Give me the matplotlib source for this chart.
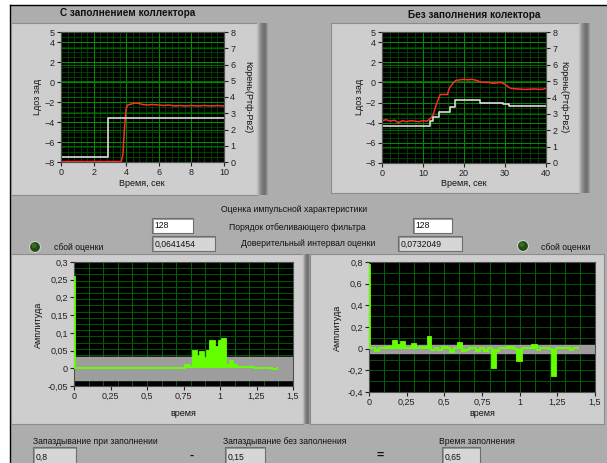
import numpy as np
import matplotlib
matplotlib.use("Agg")
import matplotlib.pyplot as plt
from matplotlib.patches import Rectangle, Circle
from matplotlib.ticker import FuncFormatter

plt.rcParams["font.family"] = ["Liberation Sans", "DejaVu Sans"]

W, H = 607, 463

# ---- data ----
# top-left graph: "С заполнением коллектора"
t_fill = [0, 3.7, 3.8, 3.9, 4.0, 4.1, 4.3, 4.6, 4.8, 5.0, 5.3, 5.6, 6.0, 6.3,
          6.6, 7.0, 7.3, 7.6, 8.0, 8.4, 8.8, 9.2, 9.6, 10]
lead_fill = [-7.95, -7.95, -7.2, -4.5, -2.6, -2.3, -2.2, -2.1, -2.15, -2.25, -2.3,
             -2.25, -2.3, -2.35, -2.3, -2.4, -2.35, -2.4, -2.35, -2.4, -2.35,
             -2.4, -2.35, -2.4]
t_root_fill = [0, 2.9, 10]
root_fill = [0.29, 2.69, 2.69]

# top-right graph: "Без заполнения колектора"
t_nofill = [0, 1, 2, 3, 4, 5, 6, 7, 8, 9, 10, 11, 12, 12.5, 13, 13.8, 14.2, 16,
            16.3, 16.7, 17.5, 18, 19, 20, 21, 22, 23, 24, 25, 26, 27, 28, 29,
            30, 31, 31.5, 33, 35, 37, 39, 40]
lead_nofill = [-3.8, -3.7, -3.85, -3.75, -4.0, -3.8, -3.9, -3.8, -3.85, -3.9,
               -3.8, -3.85, -3.5, -3.2, -2.5, -1.6, -1.2, -1.2, -0.7, -0.4, 0.0,
               0.2, 0.25, 0.3, 0.25, 0.3, 0.2, 0.05, 0.0, 0.0, -0.1, -0.05, 0.0,
               -0.2, -0.5, -0.6, -0.65, -0.7, -0.65, -0.7, -0.6]
t_root_nofill = [0, 11.7, 12.5, 14.0, 16.5, 17.8, 24, 29.5, 31, 40]
root_nofill = [2.28, 2.55, 2.8, 3.1, 3.45, 3.84, 3.67, 3.59, 3.47, 3.47]

# impulse responses (step edges, amplitudes)
edges_fill = [0, 0.008, 0.762, 0.796, 0.815, 0.842, 0.860, 0.888, 0.911, 0.934,
              0.968, 0.991, 1.014, 1.043, 1.066, 1.089, 1.117, 1.151, 1.231,
              1.323, 1.357, 1.387, 1.396]
amp_fill = [0.257, 0, 0.01, 0.003, 0.05, 0.034, 0.045, 0.025, 0.048, 0.077,
            0.061, 0.078, 0.083, 0.01, 0.021, 0.01, 0.005, 0.003, 0.001, 0.002,
            -0.002, 0.002]

edges_nofill = [0, 0.008, 0.040, 0.066, 0.106, 0.150, 0.162, 0.188, 0.210, 0.239,
                0.288, 0.312, 0.338, 0.389, 0.414, 0.438, 0.460, 0.487, 0.515,
                0.538, 0.564, 0.593, 0.615, 0.642, 0.666, 0.710, 0.737, 0.765,
                0.792, 0.814, 0.841, 0.865, 0.914, 0.965, 0.985, 1.013, 1.084,
                1.113, 1.135, 1.197, 1.212, 1.239, 1.290, 1.334, 1.356, 1.389]
amp_nofill = [0.77, 0.01, -0.02, 0.005, 0.015, 0.02, 0.07, 0.03, 0.065, 0.01,
              0.04, 0.01, 0.015, 0.11, -0.01, 0.005, -0.01, 0.02, 0.01, -0.03,
              0.01, 0.05, -0.02, -0.01, 0.01, -0.025, 0.005, -0.02, 0.005,
              -0.18, -0.02, 0.005, 0.02, 0.0, -0.11, 0.005, 0.03, -0.015, 0.01,
              0.0, -0.25, 0.01, 0.005, -0.01, 0.01]

filter_order = [128, 128]
conf_interval = [0.0641454, 0.0732049]
delay_fill = 0.8
delay_nofill = 0.15
fill_time = 0.65

PANEL = "#adadad"
FRAME = "#cecece"
GRID_MAJ = "#009000"
GRID_MIN = "#004a00"
LIME = "#66ff00"


def comma(v, pos=None):
    return ("%g" % v).replace(".", ",")


fig = plt.figure(figsize=(W / 100, H / 100), dpi=100, facecolor="white")
bg = fig.add_axes([0, 0, 1, 1])
bg.set_axis_off()


def rect(x0, y0, x1, y1, fc, ec="none", lw=0.8, z=1):
    bg.add_patch(Rectangle((x0, y0), x1 - x0, y1 - y0, facecolor=fc,
                           edgecolor=ec, lw=lw, zorder=z))


def shade_bar(x0, y0, x1, y1):
    shade = np.array([[0.74, 0.64, 0.56, 0.5, 0.46, 0.44, 0.48, 0.6]])
    bg.imshow(shade, cmap="gray", vmin=0, vmax=1, extent=(x0, x1, y1, y0),
              aspect="auto", interpolation="bilinear", zorder=2)


def txt(x, y, s, ha="center", size=6.2, **kw):
    bg.text(x, y, s, ha=ha, va="center", fontsize=size, color="#111111", **kw)


def box(x0, y0, x1, y1, s, fc):
    rect(x0, y0, x1, y1, fc, ec="#6e6e6e", lw=0.8, z=3)
    bg.plot([x0 + 1, x0 + 1, x1 - 1], [y1 - 1, y0 + 1, y0 + 1], color="#8a8a8a",
            lw=0.6, zorder=4)
    txt(x0 + 2.5, (y0 + y1) / 2 + 0.5, s, ha="left", size=6.2)


def led(x, y):
    bg.add_patch(Circle((x, y), 5.5, facecolor="#234d14", edgecolor="#d0d0d0",
                        lw=0.8, zorder=3))
    bg.add_patch(Circle((x - 1.0, y - 1.3), 2.4, facecolor="#3a7026",
                        edgecolor="none", zorder=4))


# panel background and borders
rect(10, 5, W + 2, H + 2, PANEL, z=0)
bg.plot([10, 10], [5, H], color="black", lw=1, zorder=1)
bg.plot([10, W], [5, 5], color="black", lw=1, zorder=1)

# graph frames
rect(11, 23, 257, 195, FRAME, ec="#8c8c8c")
shade_bar(257, 23, 268, 195)
rect(331, 23, 579, 193, FRAME, ec="#8c8c8c")
shade_bar(579, 23, 590, 193)
rect(11, 254, 303, 424, FRAME, ec="#8c8c8c")
shade_bar(303, 254, 310, 424)
rect(310, 254, 604, 424, FRAME, ec="#8c8c8c")

bg.set_xlim(0, W)
bg.set_ylim(H, 0)


def px_axes(x0, y0, x1, y1):
    return fig.add_axes([x0 / W, 1 - y1 / H, (x1 - x0) / W, (y1 - y0) / H])


def style(ax):
    ax.set_facecolor("black")
    ax.tick_params(direction="out", length=3, width=0.8, colors="#222222",
                   labelsize=6.5, pad=1.5)
    for sp in ax.spines.values():
        sp.set_color("#505050")
        sp.set_linewidth(0.8)


def top_graph(box_px, t_lead, lead, t_root, root, xmax, xmajor, xminor):
    ax = px_axes(*box_px)
    style(ax)
    ax.set_xlim(0, xmax)
    ax.set_ylim(-8, 5)
    ax.set_xticks(np.arange(0, xmax + 0.01, xmajor))
    ax.set_yticks([-8, -6, -4, -2, 0, 2, 4, 5])
    for x in np.arange(0, xmax + 0.01, xminor):
        ax.axvline(x, color=GRID_MIN, lw=0.6, zorder=1)
    for y in np.arange(-8, 5.01, 0.5):
        ax.axhline(y, color=GRID_MIN, lw=0.6, zorder=1)
    for x in np.arange(0, xmax + 0.01, xmajor):
        ax.axvline(x, color=GRID_MAJ, lw=0.7, zorder=1)
    for y in [-6, -4, -2, 0, 2, 4]:
        ax.axhline(y, color=GRID_MAJ, lw=0.7, zorder=1)
    for r in range(1, 8):
        ax.axhline(-8 + r * 13 / 8, color="#006a00", lw=0.7, zorder=1)
    ax2 = ax.twinx()
    style(ax2)
    ax2.set_facecolor("none")
    ax2.set_ylim(0, 8)
    ax2.set_yticks(range(9))
    ax2.plot(t_root, root, color="#dcdcdc", lw=1.2, drawstyle="steps-post",
             zorder=2)
    ax.plot(t_lead, lead, color="#ff2a2a", lw=1.1, zorder=3)
    return ax, ax2


top_graph((61, 32, 224, 162), t_fill, lead_fill, t_root_fill, root_fill,
          10, 2, 0.4)
top_graph((382, 32, 546, 163), t_nofill, lead_nofill, t_root_nofill,
          root_nofill, 40, 10, 2)


def impulse_graph(box_px, edges, amp, ci, ylim, yticks, ystep):
    ax = px_axes(*box_px)
    style(ax)
    ax.set_xlim(0, 1.5)
    ax.set_ylim(*ylim)
    ax.set_xticks([0, 0.25, 0.5, 0.75, 1, 1.25, 1.5])
    ax.set_yticks(yticks)
    ax.xaxis.set_major_formatter(FuncFormatter(comma))
    ax.yaxis.set_major_formatter(FuncFormatter(comma))
    for x in np.arange(0, 1.51, 0.1):
        ax.axvline(x, color="#007400", lw=0.6, zorder=1)
    for y in np.arange(ylim[0], ylim[1] + 1e-6, ystep):
        ax.axhline(y, color="#006400", lw=0.6, zorder=1)
    ax.axhspan(-ci / 2, ci / 2, color="#9d9d9d", zorder=2)
    ax.stairs(amp, edges, baseline=0, fill=True, color=LIME, zorder=3)
    ax.stairs(amp, edges, baseline=0, color=LIME, lw=1.3, zorder=4)
    return ax


impulse_graph((74, 262, 293, 386), edges_fill, amp_fill, conf_interval[0],
              (-0.05, 0.3), [-0.05, 0, 0.05, 0.1, 0.15, 0.2, 0.25, 0.3], 0.0175)
impulse_graph((369, 262, 595, 392), edges_nofill, amp_nofill, conf_interval[1],
              (-0.4, 0.8), [-0.4, -0.2, 0, 0.2, 0.4, 0.6, 0.8], 0.1)

# titles and axis labels
txt(128, 13, "С заполнением коллектора", size=7.2, fontweight="bold")
txt(474, 15, "Без заполнения колектора", size=7.2, fontweight="bold")
for xl, xr, xc in [(37, 248, 142), (360, 564, 464)]:
    txt(xl, 97, "Lдоз зад", size=6.5, rotation=90)
    txt(xr, 97, "Корень(Ртф-Рв2)", size=6.5, rotation=270)
    txt(xc, 183, "Время, сек", size=6.5)
txt(38, 325, "Амплитуда", size=6.5, rotation=90)
txt(337, 328, "Амплитуда", size=6.5, rotation=90)
txt(183, 414, "время", size=6.5)
txt(482, 414, "время", size=6.5)

# middle controls
txt(294, 209, "Оценка импульсной характеристики")
txt(297, 227, "Порядок отбеливающего фильтра")
txt(308, 243, "Доверительный интервал оценки")
box(152, 218, 193, 233, str(filter_order[0]), "white")
box(413, 218, 452, 233, str(filter_order[1]), "white")
box(152, 236, 215, 251, comma(conf_interval[0]), "#d6d6d6")
box(398, 236, 462, 251, comma(conf_interval[1]), "#d6d6d6")
led(35, 247)
led(523, 246)
txt(54, 247, "сбой оценки", ha="left")
txt(541, 248, "сбой оценки", ha="left")

# bottom results
txt(33, 441, "Запаздывание при заполнении", ha="left")
txt(223, 441, "Запаздывание без заполнения", ha="left")
txt(439, 441, "Время заполнения", ha="left")
box(33, 447, 76, 466, comma(delay_fill), "#d6d6d6")
box(225, 447, 265, 466, comma(delay_nofill), "#d6d6d6")
box(442, 447, 480, 466, comma(fill_time), "#d6d6d6")
txt(192, 456, "-", size=9, fontweight="bold")
txt(380, 456, "=", size=9, fontweight="bold")

fig.savefig("out.png", dpi=100, facecolor=fig.get_facecolor())
